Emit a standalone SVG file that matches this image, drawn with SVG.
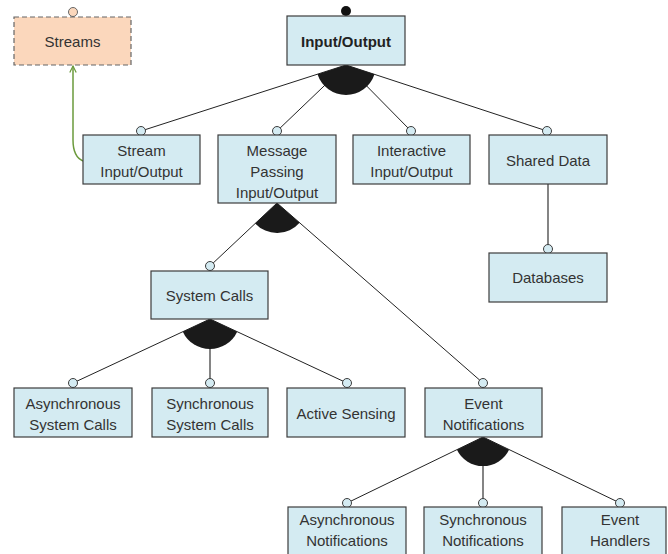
<svg xmlns="http://www.w3.org/2000/svg" width="668" height="554" viewBox="0 0 668 554">
  <defs>
    <style>
      .box { fill: #d4ebf2; stroke: #3c3c3c; stroke-width: 1.2; }
      .ext { fill: #fbd7bc; stroke: #666; stroke-width: 1.2; stroke-dasharray: 5 3; }
      .lbl { font-family: "Liberation Sans", Arial, sans-serif; font-size: 15px; fill: #333; text-anchor: middle; }
      .bold { font-weight: bold; fill: #222; }
      .edge { stroke: #222; stroke-width: 1; fill: none; }
      .vert { stroke: #666; stroke-width: 1.6; fill: none; }
      .opt { fill: #d4ebf2; stroke: #3c3c3c; stroke-width: 1; }
      .alt { fill: #1a1a1a; stroke: none; }
      .dep { stroke: #6b9a3c; stroke-width: 1.5; fill: none; }
    </style>
    <marker id="open-arrow" viewBox="0 0 10 10" refX="9" refY="5" markerWidth="8" markerHeight="8" orient="auto" markerUnits="userSpaceOnUse">
      <path d="M1,1 L9,5 L1,9" fill="none" stroke="#6b9a3c" stroke-width="1.5"/>
    </marker>
  </defs>

  <rect width="668" height="554" fill="#fff"/>

  <!-- connectors -->
  <g id="connectors">
    <!-- Input/Output children -->
    <line class="edge" x1="346" y1="65" x2="141" y2="131"/>
    <line class="edge" x1="346" y1="65" x2="277" y2="131"/>
    <line class="edge" x1="346" y1="65" x2="411" y2="131"/>
    <line class="edge" x1="346" y1="65" x2="547" y2="131"/>
    <path class="alt" d="M346,65 L374.5,74.3 A30,30 0 0 1 317.5,74.3 Z"/>

    <!-- Message Passing children -->
    <line class="edge" x1="277" y1="203" x2="210" y2="266"/>
    <line class="edge" x1="277" y1="203" x2="483" y2="383"/>
    <path class="alt" d="M277,203 L299.6,222.7 A30,30 0 0 1 255.1,223.5 Z"/>

    <!-- System Calls children -->
    <line class="edge" x1="210" y1="319" x2="73" y2="383"/>
    <line class="vert" x1="210" y1="319" x2="210" y2="383"/>
    <line class="edge" x1="210" y1="319" x2="347" y2="383"/>
    <path class="alt" d="M210,319 L237.2,331.7 A30,30 0 0 1 182.8,331.7 Z"/>

    <!-- Event Notifications children -->
    <line class="edge" x1="483" y1="437" x2="347" y2="503"/>
    <line class="vert" x1="483" y1="437" x2="483" y2="503"/>
    <line class="edge" x1="483" y1="437" x2="620" y2="503"/>
    <path class="alt" d="M483,437 L509.1,449.7 A29,29 0 0 1 456.9,449.7 Z"/>

    <!-- Shared Data child -->
    <line class="vert" x1="548" y1="184" x2="548" y2="249"/>

    <!-- dependency to Streams -->
    <path class="dep" d="M83,161 C76,158 73,152 73,140 L73,66" marker-end="url(#open-arrow)"/>

    <!-- attachment circles -->
    <circle class="opt" cx="141" cy="131" r="4.5"/>
    <circle class="opt" cx="277" cy="131" r="4.5"/>
    <circle class="opt" cx="411" cy="131" r="4.5"/>
    <circle class="opt" cx="547" cy="131" r="4.5"/>
    <circle class="opt" cx="548" cy="249" r="4.5"/>
    <circle class="opt" cx="210" cy="266" r="4.5"/>
    <circle class="opt" cx="483" cy="383" r="4.5"/>
    <circle class="opt" cx="73" cy="383" r="4.5"/>
    <circle class="opt" cx="210" cy="383" r="4.5"/>
    <circle class="opt" cx="347" cy="383" r="4.5"/>
    <circle class="opt" cx="347" cy="503" r="4.5"/>
    <circle class="opt" cx="483" cy="503" r="4.5"/>
    <circle class="opt" cx="620" cy="503" r="4.5"/>
    <circle cx="73" cy="12" r="4.5" fill="#fbd7bc" stroke="#666" stroke-width="1"/>
    <circle cx="346" cy="11" r="5" fill="#111"/>
  </g>

  <!-- nodes -->
  <g id="streams">
    <rect class="ext" x="14" y="17" width="117" height="48"/>
    <text class="lbl" x="72.5" y="47">Streams</text>
  </g>
  <g id="input-output">
    <rect class="box" x="287" y="16" width="118" height="49"/>
    <text class="lbl bold" x="346" y="47">Input/Output</text>
  </g>
  <g id="stream-io">
    <rect class="box" x="83" y="135" width="117" height="49"/>
    <text class="lbl" x="141.5" y="156">Stream</text>
    <text class="lbl" x="141.5" y="177">Input/Output</text>
  </g>
  <g id="message-passing-io">
    <rect class="box" x="218" y="135" width="118" height="68"/>
    <text class="lbl" x="277" y="156">Message</text>
    <text class="lbl" x="277" y="177">Passing</text>
    <text class="lbl" x="277" y="198">Input/Output</text>
  </g>
  <g id="interactive-io">
    <rect class="box" x="353" y="135" width="117" height="49"/>
    <text class="lbl" x="411.5" y="156">Interactive</text>
    <text class="lbl" x="411.5" y="177">Input/Output</text>
  </g>
  <g id="shared-data">
    <rect class="box" x="489" y="135" width="118" height="49"/>
    <text class="lbl" x="548" y="166">Shared Data</text>
  </g>
  <g id="databases">
    <rect class="box" x="489" y="253" width="118" height="49"/>
    <text class="lbl" x="548" y="283">Databases</text>
  </g>
  <g id="system-calls">
    <rect class="box" x="151" y="271" width="117" height="48"/>
    <text class="lbl" x="209.5" y="301">System Calls</text>
  </g>
  <g id="async-system-calls">
    <rect class="box" x="14" y="388" width="118" height="49"/>
    <text class="lbl" x="73" y="409">Asynchronous</text>
    <text class="lbl" x="73" y="430">System Calls</text>
  </g>
  <g id="sync-system-calls">
    <rect class="box" x="152" y="388" width="116" height="49"/>
    <text class="lbl" x="210" y="409">Synchronous</text>
    <text class="lbl" x="210" y="430">System Calls</text>
  </g>
  <g id="active-sensing">
    <rect class="box" x="287" y="388" width="118" height="49"/>
    <text class="lbl" x="346" y="419">Active Sensing</text>
  </g>
  <g id="event-notifications">
    <rect class="box" x="425" y="388" width="117" height="49"/>
    <text class="lbl" x="483.5" y="409">Event</text>
    <text class="lbl" x="483.5" y="430">Notifications</text>
  </g>
  <g id="async-notifications">
    <rect class="box" x="288" y="507" width="118" height="52"/>
    <text class="lbl" x="347" y="525">Asynchronous</text>
    <text class="lbl" x="347" y="546">Notifications</text>
  </g>
  <g id="sync-notifications">
    <rect class="box" x="424" y="507" width="118" height="52"/>
    <text class="lbl" x="483" y="525">Synchronous</text>
    <text class="lbl" x="483" y="546">Notifications</text>
  </g>
  <g id="event-handlers">
    <rect class="box" x="562" y="507" width="104" height="52"/>
    <text class="lbl" x="620" y="525">Event</text>
    <text class="lbl" x="620" y="546">Handlers</text>
  </g>
</svg>
